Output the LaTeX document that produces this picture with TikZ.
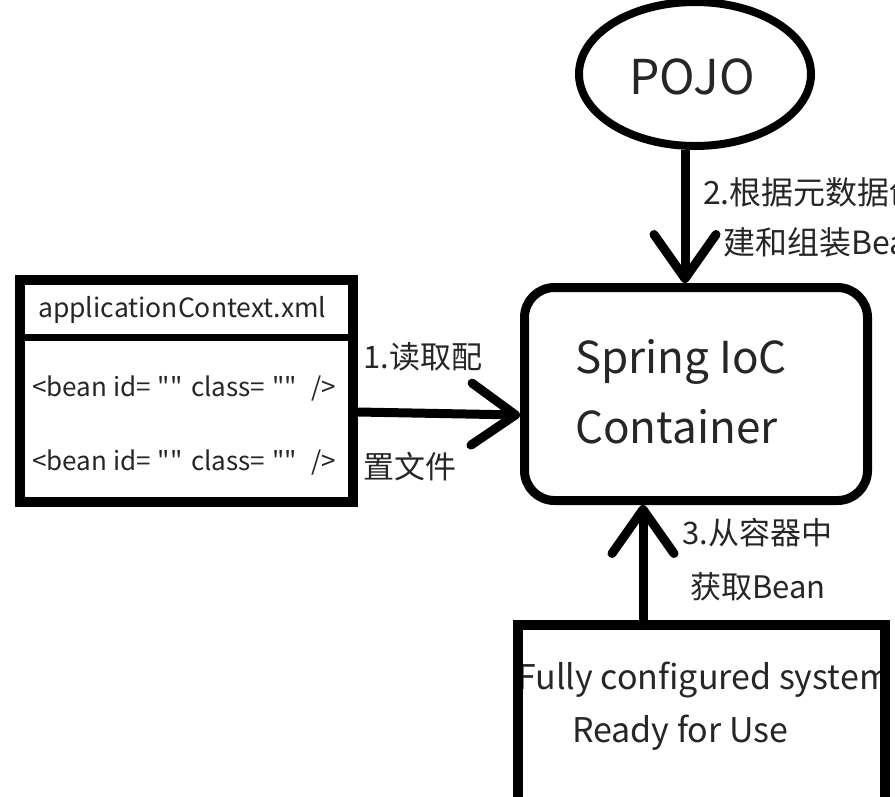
\documentclass[tikz,border=0pt]{standalone}
\usepackage{fontspec}
\setmainfont{Noto Sans CJK SC}[Ligatures=TeXOff]
\usetikzlibrary{shapes.geometric,arrows.meta}
\tikzset{
  txt/.style={inner sep=0pt, anchor=west, text=black!85},
  thick box/.style={draw=black, line width=9pt},
  conn/.style={line width=9pt, draw=black, -{Straight Barb[length=44pt,width=62pt,round]}},
}
\newcommand{\fs}[1]{\fontsize{#1}{#1}\selectfont}
\newcommand{\qq}{\hspace{7pt}"{}"\hspace{3pt}}
\begin{document}
\begin{tikzpicture}[x=1pt,y=-1pt]
\useasboundingbox (0,0) rectangle (895,796);
\clip (0,0) rectangle (895,796);
% POJO
\node[ellipse, thick box, line width=8pt, minimum width=232pt, minimum height=144pt, inner sep=0pt] (pojo) at (695,74) {};
\node[inner sep=0pt, text=black!85] (pojotext) at (692,77) {\fs{48}POJO};
% Spring container
\node[thick box, rounded corners=30pt, minimum width=343pt, minimum height=213pt] (spring) at (696,394) {};
\node[txt, align=left, font=\fs{44}] (springtext) at (575,392) {Spring IoC\\[24pt]Container};
% XML box
\node[thick box, line width=10pt, minimum width=333pt, minimum height=222pt] (xmlbox) at (186.5,391) {};
\draw[line width=7pt] (xmlbox.west |- 0,337) -- (xmlbox.east |- 0,337);
\node[txt] (xmltitle) at (38,310) {\fs{26.5}applicationContext.xml};
\node[txt] (bean1) at (32,388) {\fs{26}<bean id=\qq{} class=\qq{} \hspace{6pt}/>};
\node[txt] (bean2) at (32,462) {\fs{26}<bean id=\qq{} class=\qq{} \hspace{6pt}/>};
% system box texts
\node[txt] (sys1) at (517,680) {\fs{34}Fully configured system};
\node[txt] (sys2) at (572,733) {\fs{34}Ready for Use};
\node[draw=black, line width=10pt, minimum width=367pt, minimum height=250pt] (sysbox) at (701.5,750) {};
% labels
\node[txt] (l1a) at (363,357) {\fs{31}1.读取配};
\node[txt] (l1b) at (363,467) {\fs{31}置文件};
\node[txt] (l2a) at (703,192) {\fs{32}2.根据元数据创};
\node[txt] (l2b) at (723,242) {\fs{32}建和组装Bean};
\node[txt] (l3a) at (682,533) {\fs{31}3.从容器中};
\node[txt] (l3b) at (690,587) {\fs{31}获取Bean};
% connectors
\draw[conn] ([yshift=-21pt]xmlbox.east) -- ([yshift=-21pt]spring.west);
\draw[conn] ([xshift=-10pt]pojo.south) -- ([xshift=-11pt]spring.north);
\draw[conn] ([xshift=-58.5pt]sysbox.north) -- ([xshift=-53pt]spring.south);
\end{tikzpicture}
\end{document}
